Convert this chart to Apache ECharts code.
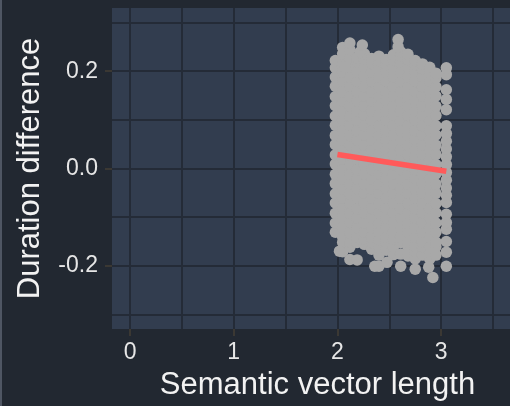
<!DOCTYPE html>
<html>
<head>
<meta charset="utf-8">
<script src="https://cdn.jsdelivr.net/npm/echarts@6/dist/echarts.min.js"></script>
<style>
  html, body { margin: 0; padding: 0; background: #222831; }
  #chart { width: 510px; height: 406px; }
</style>
</head>
<body>
<div id="chart"></div>
<script>
// x positions of the point columns in the cloud
const colX = [1.98, 2.05, 2.12, 2.19, 2.26, 2.33, 2.40, 2.47, 2.54, 2.61, 2.68, 2.75, 2.82, 2.89, 2.95];
// y values read for each column (bottom to top)
const colY = [
  [-0.131, -0.112, -0.092, -0.071, -0.052, -0.031, -0.012, 0.009, 0.028, 0.049, 0.068, 0.089, 0.108, 0.129, 0.148, 0.169, 0.188, 0.207, 0.222],
  [-0.171, -0.152, -0.141, -0.122, -0.101, -0.082, -0.061, -0.042, -0.021, -0.002, 0.019, 0.038, 0.059, 0.078, 0.099, 0.118, 0.139, 0.158, 0.179, 0.198, 0.219, 0.236, 0.249],
  [-0.187, -0.162, -0.151, -0.132, -0.111, -0.092, -0.071, -0.052, -0.031, -0.012, 0.009, 0.028, 0.049, 0.068, 0.089, 0.108, 0.129, 0.148, 0.169, 0.188, 0.209, 0.228, 0.244, 0.258],
  [-0.188, -0.152, -0.141, -0.122, -0.101, -0.082, -0.061, -0.042, -0.021, -0.002, 0.019, 0.038, 0.059, 0.078, 0.099, 0.118, 0.139, 0.158, 0.179, 0.198, 0.219, 0.228],
  [-0.156, -0.145, -0.131, -0.112, -0.091, -0.072, -0.051, -0.032, -0.011, 0.008, 0.029, 0.048, 0.069, 0.088, 0.109, 0.128, 0.149, 0.168, 0.189, 0.208, 0.224, 0.236],
  [-0.166, -0.152, -0.141, -0.122, -0.101, -0.082, -0.061, -0.042, -0.021, -0.002, 0.019, 0.038, 0.059, 0.078, 0.099, 0.118, 0.139, 0.158, 0.179, 0.198, 0.216, 0.226],
  [-0.201, -0.178, -0.161, -0.146, -0.131, -0.112, -0.091, -0.072, -0.051, -0.032, -0.011, 0.008, 0.029, 0.048, 0.069, 0.088, 0.109, 0.128, 0.149, 0.168, 0.189, 0.208, 0.222, 0.231],
  [-0.168, -0.152, -0.141, -0.122, -0.101, -0.082, -0.061, -0.042, -0.021, -0.002, 0.019, 0.038, 0.059, 0.078, 0.099, 0.118, 0.139, 0.158, 0.179, 0.198, 0.214, 0.224],
  [-0.177, -0.161, -0.146, -0.131, -0.112, -0.091, -0.072, -0.051, -0.032, -0.011, 0.008, 0.029, 0.048, 0.069, 0.088, 0.109, 0.128, 0.149, 0.168, 0.189, 0.208, 0.222, 0.234],
  [-0.201, -0.176, -0.152, -0.141, -0.122, -0.101, -0.082, -0.061, -0.042, -0.021, -0.002, 0.019, 0.038, 0.059, 0.078, 0.099, 0.118, 0.139, 0.158, 0.179, 0.198, 0.219, 0.232, 0.240],
  [-0.180, -0.161, -0.151, -0.131, -0.112, -0.091, -0.072, -0.051, -0.032, -0.011, 0.008, 0.029, 0.048, 0.069, 0.088, 0.109, 0.128, 0.149, 0.168, 0.189, 0.208, 0.224, 0.235],
  [-0.207, -0.186, -0.171, -0.161, -0.141, -0.122, -0.101, -0.082, -0.061, -0.042, -0.021, -0.002, 0.019, 0.038, 0.059, 0.078, 0.099, 0.118, 0.139, 0.158, 0.179, 0.198, 0.214, 0.222],
  [-0.178, -0.161, -0.151, -0.131, -0.112, -0.091, -0.072, -0.051, -0.032, -0.011, 0.008, 0.029, 0.048, 0.069, 0.088, 0.109, 0.128, 0.149, 0.168, 0.189, 0.205, 0.215],
  [-0.186, -0.172, -0.161, -0.141, -0.122, -0.101, -0.082, -0.061, -0.042, -0.021, -0.002, 0.019, 0.038, 0.059, 0.078, 0.099, 0.118, 0.139, 0.158, 0.179, 0.198, 0.208],
  [-0.178, -0.161, -0.151, -0.131, -0.112, -0.091, -0.072, -0.051, -0.032, -0.011, 0.008, 0.029, 0.048, 0.069, 0.088, 0.109, 0.128, 0.149, 0.168, 0.186, 0.196]
];
// stray points around the edges of the cloud
const strayPoints = [
  [2.22, 0.240], [2.24, 0.254], [2.585, 0.265], [2.585, 0.250], [2.07, 0.209],
  [2.36, -0.201], [2.478, -0.193], [2.88, -0.203], [2.92, -0.224], [2.02, -0.170]
];
// the separate column near x = 3.05
const edgeX = 3.05;
const edgeY = [-0.201, -0.172, -0.150, -0.125, -0.111, -0.094, -0.070, -0.055, -0.040, -0.024, -0.008,
  0.008, 0.024, 0.040, 0.056, 0.072, 0.088, 0.121, 0.142, 0.162, 0.193, 0.207];
// fitted line
const fitLine = [[2.0, 0.0287], [3.05, -0.0055]];

const xTicks = [0, 1, 2, 3];
const xGrid = [0, 0.5, 1, 1.5, 2, 2.5, 3, 3.5];
const yTicks = [-0.2, 0, 0.2];
const yGrid = [-0.3, -0.2, -0.1, 0, 0.1, 0.2, 0.3];

const points = [];
colX.forEach((x, i) => colY[i].forEach(y => points.push([x, y])));
strayPoints.forEach(p => points.push(p));
edgeY.forEach(y => points.push([edgeX, y]));

const font = 'Liberation Sans, Arial, sans-serif';
const tickColor = '#3b3833';
const gridColor = '#242b37';

const myChart = echarts.init(document.getElementById('chart'));
myChart.setOption({
  backgroundColor: '#222831',
  animation: false,
  graphic: [{
    type: 'rect', left: 0, top: 0, z: -1,
    shape: { width: 2, height: 406 },
    style: { fill: '#4f5663' }
  }],
  grid: {
    left: 112, right: 0, top: 8, bottom: 76,
    show: true, backgroundColor: '#323d4f', borderWidth: 0
  },
  xAxis: [{
    type: 'value', min: -0.174, max: 3.664,
    name: 'Semantic vector length', nameLocation: 'middle', nameGap: 41,
    nameTextStyle: { color: '#f2f2f2', fontSize: 31, fontFamily: font, padding: [0, 0, 0, 13] },
    axisLine: { show: false, onZero: false },
    axisTick: { show: true, customValues: xTicks, length: 7, lineStyle: { color: tickColor, width: 2 } },
    axisLabel: { customValues: xTicks, color: '#e6e6e6', fontSize: 23, fontFamily: font, margin: 12 },
    splitLine: { show: false }
  }, {
    type: 'value', min: -0.174, max: 3.664, position: 'bottom',
    axisLine: { show: false, onZero: false }, axisLabel: { show: false },
    axisTick: { show: false, customValues: xGrid },
    splitLine: { show: true, lineStyle: { color: gridColor, width: 2 } }
  }],
  yAxis: [{
    type: 'value', min: -0.33, max: 0.33,
    name: 'Duration difference', nameLocation: 'middle', nameGap: 66,
    nameTextStyle: { color: '#f2f2f2', fontSize: 31, fontFamily: font },
    axisLine: { show: false, onZero: false },
    axisTick: { show: true, customValues: yTicks, length: 7, lineStyle: { color: tickColor, width: 2 } },
    axisLabel: {
      customValues: yTicks, color: '#e6e6e6', fontSize: 23, fontFamily: font, margin: 14,
      formatter: v => v.toFixed(1)
    },
    splitLine: { show: false }
  }, {
    type: 'value', min: -0.33, max: 0.33, position: 'left',
    axisLine: { show: false, onZero: false }, axisLabel: { show: false },
    axisTick: { show: false, customValues: yGrid },
    splitLine: { show: true, lineStyle: { color: gridColor, width: 2 } }
  }],
  series: [{
    type: 'scatter',
    data: points,
    symbolSize: 11.5,
    itemStyle: { color: '#a8a8a8', opacity: 1 },
    emphasis: { disabled: true },
    z: 2
  }, {
    type: 'line',
    data: fitLine,
    symbol: 'none',
    lineStyle: { color: '#ff5a5a', width: 5.5 },
    emphasis: { disabled: true },
    z: 3
  }]
});
</script>
</body>
</html>
